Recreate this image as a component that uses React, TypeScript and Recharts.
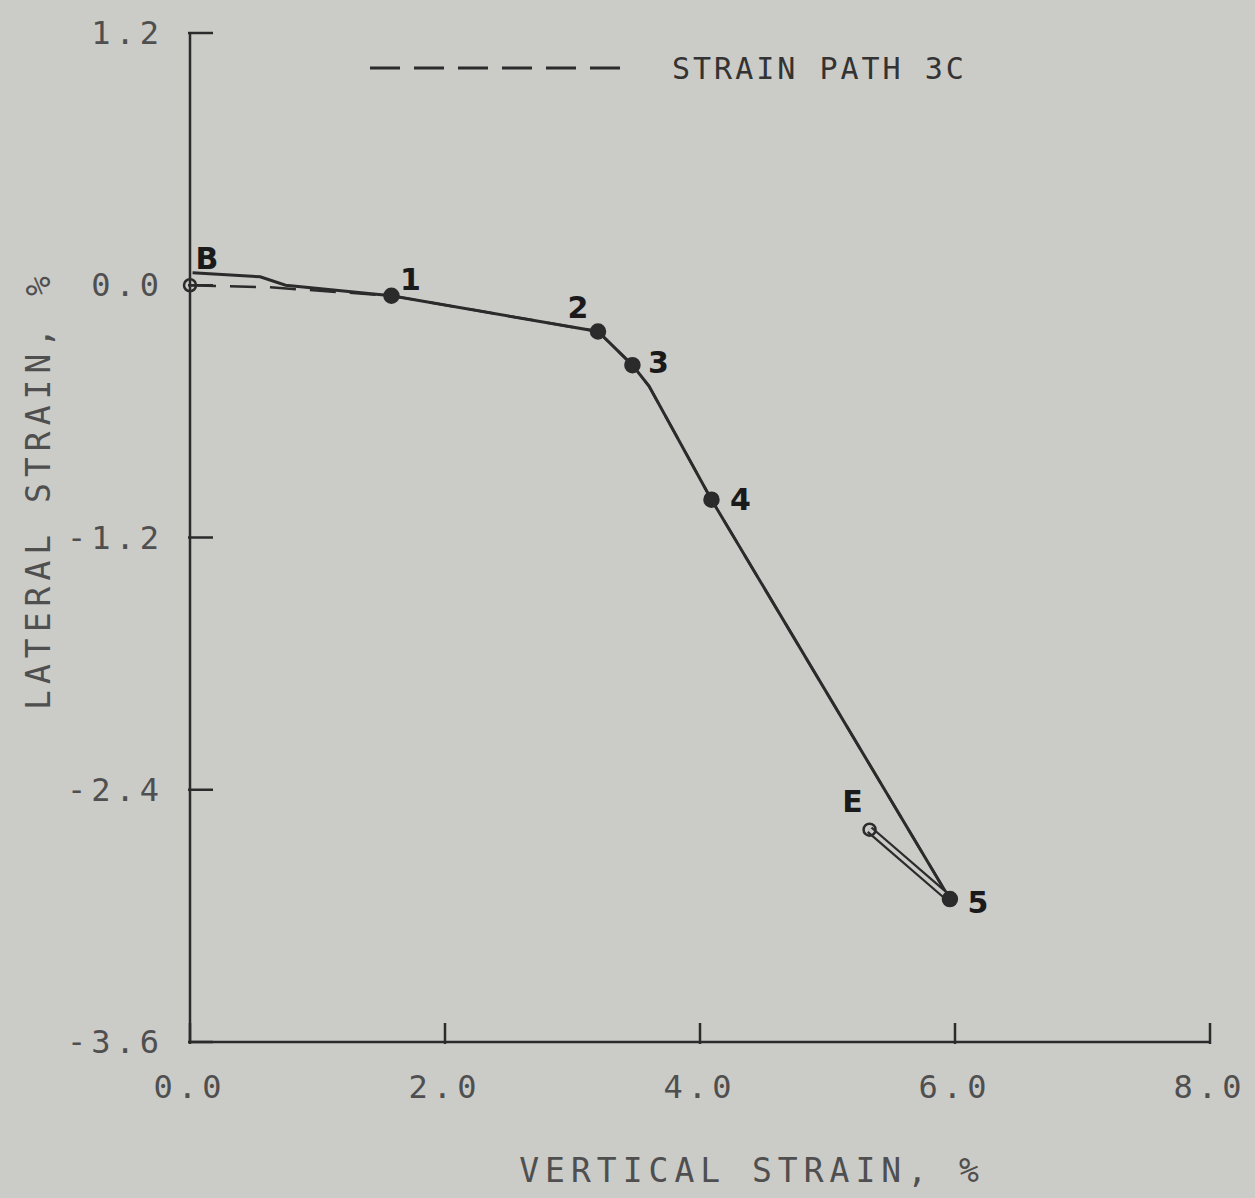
import React from "react";
import {
  ComposedChart,
  Line,
  Scatter,
  XAxis,
  YAxis,
} from "recharts";

// measured strain path (solid)
const pathX = [0.02, 0.55, 0.75, 1.58, 3.2, 3.47, 3.6, 4.09, 5.96];
const pathY = [0.06, 0.04, 0.0, -0.05, -0.22, -0.38, -0.48, -1.02, -2.92];

// target strain path 3C (dashed)
const targetX = [0.0, 0.63, 1.58, 3.2, 3.47, 3.6, 4.09, 5.96];
const targetY = [0.0, -0.01, -0.05, -0.22, -0.38, -0.48, -1.02, -2.92];

// unloading 5 -> E
const unloadX = [5.96, 5.33];
const unloadY = [-2.92, -2.59];

// labelled stages
const pointNames = ["B", "1", "2", "3", "4", "5", "E"];
const pointX = [0.0, 1.58, 3.2, 3.47, 4.09, 5.96, 5.33];
const pointY = [0.0, -0.05, -0.22, -0.38, -1.02, -2.92, -2.59];
const openPoints = ["B", "E"];

const xTicks = [0, 2, 4, 6, 8];
const yTicks = [-3.6, -2.4, -1.2, 0, 1.2];

const solidData = pathX.map((x, i) => ({ x, y: pathY[i] }));
const targetData = targetX.map((x, i) => ({ x, y: targetY[i] }));
const unloadData = unloadX.map((x, i) => ({ x, y: unloadY[i] }));
const pointData = pointNames.map((name, i) => ({ name, x: pointX[i], y: pointY[i] }));

const PAPER = "#cbcbc8";
const INK = "#2b2b2b";
const TEXT = "#4f4f4f";
const FONT = "'DejaVu Sans Mono', monospace";

// label placement around each marker (pixels)
const labelOffset: Record<string, [number, number]> = {
  B: [17, -27],
  "1": [19, -16],
  "2": [-20, -24],
  "3": [26, -3],
  "4": [29, 0],
  "5": [28, 3],
  E: [-17, -28],
};

const XTick = (props: any) => {
  const { x, y, payload } = props;
  return (
    <g>
      <line x1={x} y1={y} x2={x} y2={y - 21} stroke={INK} strokeWidth={2.5} />
      <text
        x={x}
        y={y + 54}
        textAnchor="middle"
        fontFamily={FONT}
        fontSize={32}
        letterSpacing={5}
        fill={TEXT}
      >
        {payload.value.toFixed(1)}
      </text>
    </g>
  );
};

const YTick = (props: any) => {
  const { x, y, payload } = props;
  return (
    <g>
      <line x1={x} y1={y} x2={x + 25} y2={y} stroke={INK} strokeWidth={2.5} />
      <text
        x={x - 24}
        y={y + 11}
        textAnchor="end"
        fontFamily={FONT}
        fontSize={32}
        letterSpacing={5}
        fill={TEXT}
      >
        {payload.value.toFixed(1)}
      </text>
    </g>
  );
};

const StageMarker = (props: any) => {
  const { cx, cy, payload } = props;
  const open = openPoints.includes(payload.name);
  const [dx, dy] = labelOffset[payload.name] || [20, 0];
  return (
    <g>
      <circle
        cx={cx}
        cy={cy}
        r={open ? 6 : 7}
        fill={open ? "none" : INK}
        stroke={INK}
        strokeWidth={2.5}
      />
      <text
        x={cx + dx}
        y={cy + dy}
        textAnchor="middle"
        dominantBaseline="central"
        fontFamily="'DejaVu Sans', sans-serif"
        fontWeight="bold"
        fontSize={30}
        fill="#1a1a1a"
      >
        {payload.name}
      </text>
    </g>
  );
};

export default function App() {
  return (
    <div
      style={{
        position: "absolute",
        left: 0,
        top: 0,
        width: 1255,
        height: 1198,
        background: PAPER,
        overflow: "hidden",
      }}
    >
      {/* legend */}
      <div style={{ position: "absolute", left: 370, top: 48, display: "flex", alignItems: "center" }}>
        <svg width={260} height={40}>
          <line x1={0} y1={20} x2={258} y2={20} stroke={INK} strokeWidth={3} strokeDasharray="30 14" />
        </svg>
        <span
          style={{
            marginLeft: 42,
            fontFamily: FONT,
            fontSize: 30,
            letterSpacing: 3,
            color: "#333",
          }}
        >
          STRAIN PATH 3C
        </span>
      </div>

      <ComposedChart
        width={1255}
        height={1198}
        margin={{ top: 33, right: 45, left: 0, bottom: 0 }}
      >
        <XAxis
          dataKey="x"
          type="number"
          domain={[0, 8]}
          ticks={xTicks}
          height={156}
          tickSize={0}
          tickLine={false}
          axisLine={{ stroke: INK, strokeWidth: 2.5 }}
          tick={<XTick />}
          interval={0}
        />
        <YAxis
          dataKey="y"
          type="number"
          domain={[-3.6, 1.2]}
          ticks={yTicks}
          width={190}
          tickSize={0}
          tickLine={false}
          axisLine={{ stroke: INK, strokeWidth: 2.5 }}
          tick={<YTick />}
          interval={0}
        />
        <Line
          data={targetData}
          dataKey="y"
          type="linear"
          stroke={INK}
          strokeWidth={2.5}
          strokeDasharray="26 14"
          dot={false}
          isAnimationActive={false}
        />
        <Line
          data={solidData}
          dataKey="y"
          type="linear"
          stroke={INK}
          strokeWidth={3}
          dot={false}
          isAnimationActive={false}
        />
        <Line
          data={unloadData}
          dataKey="y"
          type="linear"
          stroke={INK}
          strokeWidth={8}
          dot={false}
          isAnimationActive={false}
        />
        <Line
          data={unloadData}
          dataKey="y"
          type="linear"
          stroke={PAPER}
          strokeWidth={3.5}
          dot={false}
          isAnimationActive={false}
        />
        <Scatter
          data={pointData}
          dataKey="y"
          shape={<StageMarker />}
          isAnimationActive={false}
        />
      </ComposedChart>

      <div
        style={{
          position: "absolute",
          left: 38,
          top: 490,
          transform: "translate(-50%, -50%) rotate(-90deg)",
          whiteSpace: "nowrap",
          fontFamily: FONT,
          fontSize: 33,
          letterSpacing: 6,
          color: TEXT,
        }}
      >
        LATERAL STRAIN, %
      </div>
      <div
        style={{
          position: "absolute",
          left: 752,
          top: 1170,
          transform: "translate(-50%, -50%)",
          whiteSpace: "nowrap",
          fontFamily: FONT,
          fontSize: 33,
          letterSpacing: 6,
          color: TEXT,
        }}
      >
        VERTICAL STRAIN, %
      </div>
    </div>
  );
}
